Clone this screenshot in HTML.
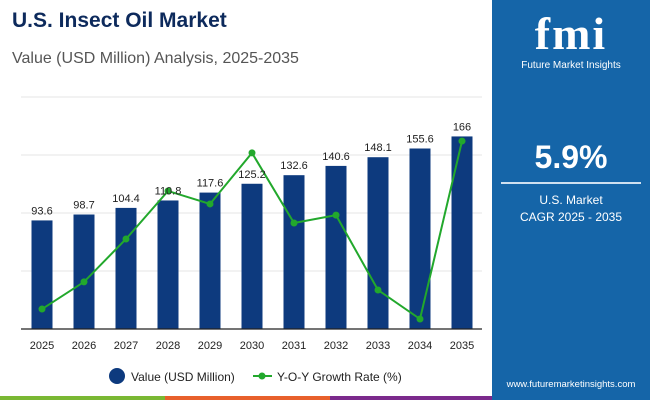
<!DOCTYPE html>
<html><head><meta charset="utf-8"><style>
body{margin:0;width:650px;height:400px;overflow:hidden;background:#fff;font-family:"Liberation Sans",sans-serif;position:relative}
.a{position:absolute}
</style></head><body>
<div class="a" style="left:12px;top:9px;font-size:21px;font-weight:bold;color:#0d2a5c">U.S. Insect Oil Market</div>
<div class="a" style="left:12px;top:50px;font-size:16px;color:#555">Value (USD Million) Analysis, 2025-2035</div>
<div class="a" style="left:492px;top:0;width:158px;height:400px;background:#1565a8;color:#fff;text-align:center">
  <div style="margin-top:8px;font-size:46px;font-weight:bold;letter-spacing:2px;font-family:'Liberation Serif',serif;line-height:52px">fmi</div>
  <div style="font-size:10px">Future Market Insights</div>
  <div style="margin-top:68px;font-size:32px;font-weight:bold">5.9%</div>
  <div style="margin:6px auto 0;width:140px;height:2px;background:#cfe0f0"></div>
  <div style="margin-top:8px;font-size:12px;line-height:17px">U.S. Market<br>CAGR 2025 - 2035</div>
  <div style="position:absolute;bottom:10px;width:100%;font-size:9.5px">www.futuremarketinsights.com</div>
</div>
<div class="a" style="left:0;top:396px;width:165px;height:4px;background:#7ab833"></div>
<div class="a" style="left:165px;top:396px;width:165px;height:4px;background:#e8602c"></div>
<div class="a" style="left:330px;top:396px;width:162px;height:4px;background:#7b2a8c"></div>
<svg class="a" style="left:0;top:0" width="492" height="396">
<g id="grid"></g><g id="bars"></g><g id="line"></g><g id="labels"></g>
<line x1="21" x2="482" y1="329" y2="329" stroke="#222" stroke-width="1.2"/>
<g>
<circle cx="117" cy="376" r="8" fill="#0d3a7e"/>
<text x="131" y="381" font-size="12" fill="#222">Value (USD Million)</text>
<line x1="253" x2="272" y1="376" y2="376" stroke="#22a82c" stroke-width="2"/>
<circle cx="262" cy="376" r="3.5" fill="#22a82c"/>
<text x="277" y="381" font-size="12" fill="#222">Y-O-Y Growth Rate (%)</text>
</g>
</svg>
<script>
const years=["2025","2026","2027","2028","2029","2030","2031","2032","2033","2034","2035"];
const values=[93.6,98.7,104.4,110.8,117.6,125.2,132.6,140.6,148.1,155.6,166];
const growth=[0.86,2.03,3.88,5.95,5.39,7.59,4.57,4.91,1.68,0.43,8.10];
const gridTicks=[0,50,100,150,200];
const NS="http://www.w3.org/2000/svg";
const x0=42,dx=42,base=329,topY=97;
const yV=v=>base-v/200*(base-topY);
const yG=g=>base-g/10*(base-topY);
const xC=i=>x0+i*dx;
function mk(t,a,p){const e=document.createElementNS(NS,t);for(const k in a)e.setAttribute(k,a[k]);document.getElementById(p).appendChild(e);return e;}
gridTicks.forEach(t=>{const l=mk("line",{x1:21,x2:482,y1:yV(t),y2:yV(t),stroke:"#e6e6e6"},"grid");

});
values.forEach((v,i)=>{const r=mk("rect",{x:xC(i)-10.5,y:yV(v),width:21,height:base-yV(v),fill:"#0d3a7e"},"bars");


const t=mk("text",{x:xC(i),y:yV(v)-6,"text-anchor":"middle","font-size":11,fill:"#222"},"labels");t.textContent=v;


const yl=mk("text",{x:xC(i),y:349,"text-anchor":"middle","font-size":11,fill:"#222"},"labels");yl.textContent=years[i];

});
const pl=mk("polyline",{points:growth.map((g,i)=>xC(i)+","+yG(g)).join(" "),fill:"none",stroke:"#22a82c","stroke-width":2},"line");


growth.forEach((g,i)=>{const c=mk("circle",{cx:xC(i),cy:yG(g),r:3.5,fill:"#22a82c"},"line");

});
</script>
</body></html>
